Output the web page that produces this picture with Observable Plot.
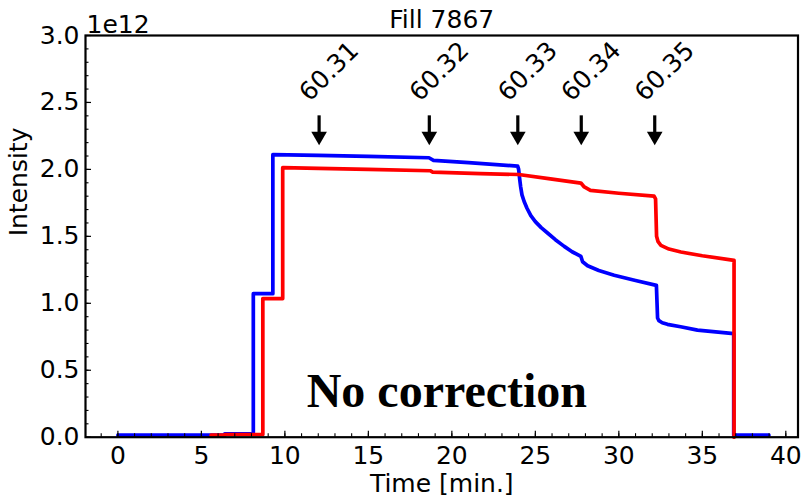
<!DOCTYPE html>
<html>
<head>
<meta charset="utf-8">
<script src="https://cdn.jsdelivr.net/npm/d3@7"></script>
<script src="https://cdn.jsdelivr.net/npm/@observablehq/plot@0.6"></script>
<style>
  html, body { margin: 0; padding: 0; background: #fff; }
</style>
</head>
<body>
<div id="chart"></div>
<script>
// Texts
const title = "Fill 7867";
const xLabel = "Time [min.]";
const yLabel = "Intensity";
const yExponent = "1e12";
const note = "No correction";

// Beam intensity (units of 1e12) at the turning points of each trace
const blueTime = [0, 6.4, 6.4, 8.11, 8.11, 9.28, 9.28, 12.0, 15.0, 18.63, 18.9, 21.0, 23.94, 24.0, 24.06, 24.12, 24.2, 24.33, 24.5, 24.73, 25.0, 25.35, 25.73, 26.2, 26.73, 27.2, 27.73, 27.83, 28.13, 28.8, 29.72, 31.0, 32.25, 32.32, 32.4, 32.6, 32.91, 33.7, 34.71, 35.8, 36.88, 36.88, 38.99];
const blueIntensity = [0.015, 0.015, 0.025, 0.025, 1.072, 1.072, 2.11, 2.104, 2.097, 2.087, 2.068, 2.05, 2.025, 2.0, 1.93, 1.87, 1.81, 1.76, 1.71, 1.655, 1.61, 1.565, 1.525, 1.475, 1.425, 1.385, 1.35, 1.31, 1.28, 1.245, 1.21, 1.17, 1.134, 0.89, 0.87, 0.855, 0.843, 0.825, 0.80, 0.787, 0.774, 0.015, 0.015];

const redTime = [5.58, 6.4, 6.4, 8.68, 8.68, 9.87, 9.87, 12.0, 15.0, 18.7, 18.85, 21.7, 24.0, 25.9, 27.73, 27.93, 28.3, 30.0, 32.11, 32.2, 32.26, 32.35, 32.52, 33.0, 33.72, 35.0, 36.9, 36.9];
const redIntensity = [0.015, 0.015, 0.02, 0.02, 1.035, 1.035, 2.013, 2.008, 2.0, 1.99, 1.98, 1.968, 1.962, 1.929, 1.898, 1.869, 1.843, 1.822, 1.80, 1.78, 1.50, 1.46, 1.433, 1.405, 1.383, 1.355, 1.32, 0];

// Scan markers: time, label, and arrow extent (units of 1e12)
const markerTime = [12.05, 18.65, 23.95, 27.75, 32.15];
const markerLabel = ["60.31", "60.32", "60.33", "60.34", "60.35"];
const markerTop = 2.40;
const markerTip = 2.18;
const markerLabelLevel = 2.73;

// Axis ticks
const xMajorTicks = [0, 5, 10, 15, 20, 25, 30, 35, 40];
const xMinorTicks = d3.range(-1, 41, 1);
const yMajorTicks = [0, 0.5, 1.0, 1.5, 2.0, 2.5, 3.0];
const yMinorTicks = d3.range(0, 31, 1).map(d => d / 10);

const blue = blueTime.map((t, i) => ({t, v: blueIntensity[i]}));
const red = redTime.map((t, i) => ({t, v: redIntensity[i]}));
const markers = markerTime.map((t, i) => ({t, label: markerLabel[i]}));

const chart = Plot.plot({
  width: 801,
  height: 501,
  marginLeft: 85,
  marginRight: 3.5,
  marginTop: 35,
  marginBottom: 64.3,
  x: {domain: [-1.94, 40.73], label: null},
  y: {domain: [0, 3], label: null},
  style: {
    fontFamily: "'DejaVu Sans', sans-serif",
    fontSize: "25px",
    color: "#000",
    background: "#fff",
    overflow: "visible"
  },
  marks: [
    Plot.line(blue, {x: "t", y: "v", stroke: "#0000ff", strokeWidth: 3.7, strokeLinejoin: "round"}),
    Plot.line(red, {x: "t", y: "v", stroke: "#ff0000", strokeWidth: 3.7, strokeLinejoin: "round"}),

    // arrows pointing at each scan
    Plot.ruleX(markers, {x: "t", y1: markerTop, y2: markerTip + 0.04, stroke: "#000", strokeWidth: 3.2}),
    Plot.dot(markers, {x: "t", y: markerTip, symbol: "triangle", r: 5.8, fill: "#000", stroke: null, rotate: 180, dy: -9}),
    Plot.text(markers, {x: "t", y: markerLabelLevel, text: "label", rotate: -45, dx: 10, fontSize: 25}),

    Plot.text([note], {x: 19.7, y: 0.226, text: d => d, lineAnchor: "bottom", fontFamily: "'Liberation Serif', serif", fontWeight: "bold", fontSize: 48}),

    // inward ticks
    Plot.axisX({ticks: xMinorTicks, tickSize: -3.5, strokeWidth: 1.1, tickFormat: () => "", label: null}),
    Plot.axisX({ticks: xMajorTicks, tickSize: -6, strokeWidth: 1.2, tickFormat: () => "", label: null}),
    Plot.axisX({ticks: xMajorTicks, tickSize: 0, tickPadding: 9, tickFormat: d => String(d), label: null, fontSize: 25}),
    Plot.axisY({ticks: yMinorTicks, tickSize: -3.5, strokeWidth: 1.1, tickFormat: () => "", label: null}),
    Plot.axisY({ticks: yMajorTicks, tickSize: -6, strokeWidth: 1.2, tickFormat: () => "", label: null}),
    Plot.axisY({ticks: yMajorTicks, tickSize: 0, tickPadding: 6, tickFormat: d3.format(".1f"), label: null, fontSize: 25}),

    Plot.frame({stroke: "#000", strokeWidth: 2.2}),

    // titles
    Plot.text([title], {frameAnchor: "top", dy: -8, lineAnchor: "bottom", fontSize: 25}),
    Plot.text([yExponent], {frameAnchor: "top-left", textAnchor: "start", lineAnchor: "bottom", dy: -3, dx: 1, fontSize: 25}),
    Plot.text([xLabel], {frameAnchor: "bottom", dy: 55, lineAnchor: "bottom", fontSize: 25}),
    Plot.text([yLabel], {frameAnchor: "left", rotate: -90, dx: -67, fontSize: 25})
  ]
});

document.getElementById("chart").appendChild(chart);
</script>
</body>
</html>
